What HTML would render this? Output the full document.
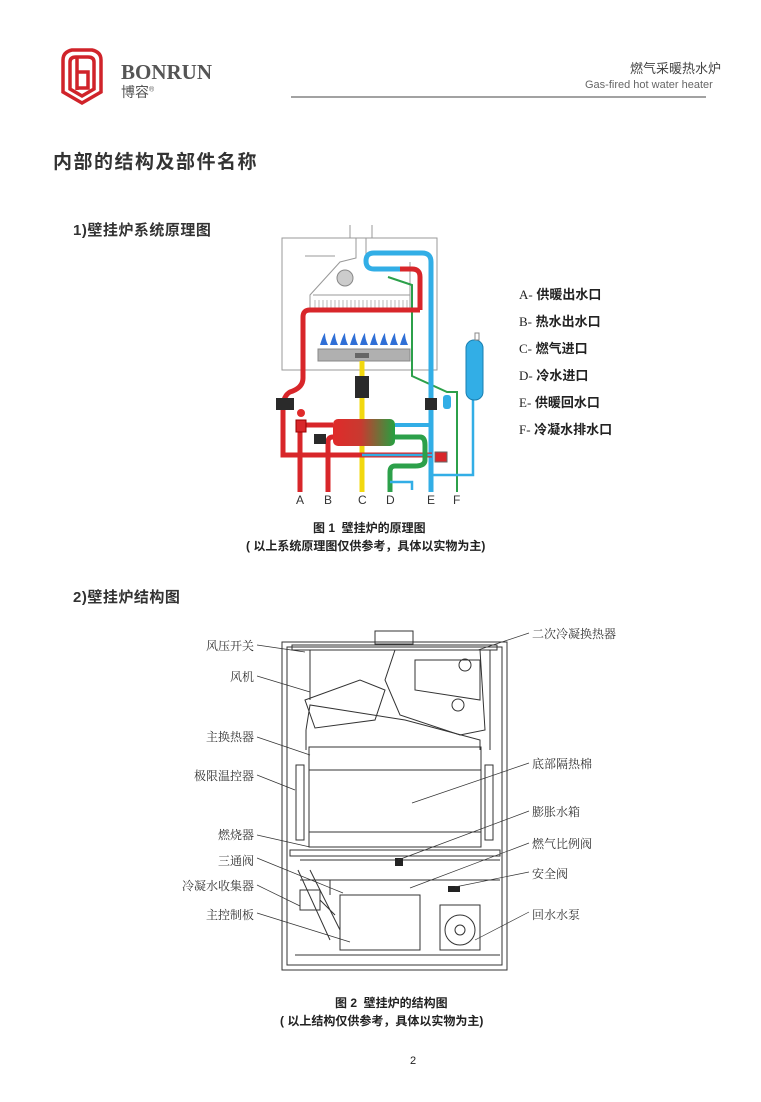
<!DOCTYPE html>
<html><head><meta charset="utf-8"><style>
body{margin:0;background:#fff;width:761px;height:1102px;position:relative;overflow:hidden;font-family:"Liberation Sans","Noto Sans CJK SC",sans-serif;color:#222}
.t{position:absolute;white-space:nowrap}
.lb div{white-space:nowrap}
</style></head><body>
<svg width="761" height="1102" style="position:absolute;left:0;top:0" xmlns="http://www.w3.org/2000/svg">
<defs><linearGradient id="hx" x1="0" x2="1"><stop offset="0" stop-color="#e02a2a"/><stop offset="0.45" stop-color="#c83a30"/><stop offset="1" stop-color="#25a040"/></linearGradient></defs>
<!-- logo -->
<g fill="none" stroke="#d0232a" stroke-width="3.5">
<path d="M63 60 Q63 52 72 50 L92 50 Q101 52 101 60 L101 92 L82 103 L63 92 Z"/>
<path d="M70 62 L70 89 L82 96 L94 89 L94 62 Q94 57 88 57 L76 57 Q70 57 70 62 Z"/>
<path d="M77 58 L77 90 M77 72 L88 72 L88 88 L77 88"/>
</g>
<line x1="291" y1="97" x2="706" y2="97" stroke="#444" stroke-width="1"/>
<!-- schematic -->
<g fill="none" stroke="#999" stroke-width="1">
<rect x="282" y="238" width="155" height="132"/>
<path d="M350 238 L350 225 M372 238 L372 225 M356 238 L356 258 L340 262 L310 295 L310 310 M366 238 L366 258"/>
<path d="M410 262 L410 310 M313 295 L410 295"/>
<path d="M305 256 L335 256"/>
</g>
<g stroke="#aaa" stroke-width="0.8">
<path d="M315 300v10M319 300v10M323 300v10M327 300v10M331 300v10M335 300v10M339 300v10M343 300v10M347 300v10M351 300v10M355 300v10M359 300v10M363 300v10M367 300v10M371 300v10M375 300v10M379 300v10M383 300v10M387 300v10M391 300v10M395 300v10M399 300v10M403 300v10M407 300v10"/>
</g>
<circle cx="345" cy="278" r="8" fill="#ccc" stroke="#888"/>
<rect x="318" y="349" width="92" height="12" fill="#b0b0b0" stroke="#888"/>
<rect x="355" y="353" width="14" height="5" fill="#666"/>
<g fill="#2f6fd6"><path d="M320 345 q3 -10 5 -12 q0 6 3 12z M330 345 q3 -10 5 -12 q0 6 3 12z M340 345 q3 -10 5 -12 q0 6 3 12z M350 345 q3 -10 5 -12 q0 6 3 12z M360 345 q3 -10 5 -12 q0 6 3 12z M370 345 q3 -10 5 -12 q0 6 3 12z M380 345 q3 -10 5 -12 q0 6 3 12z M390 345 q3 -10 5 -12 q0 6 3 12z M400 345 q3 -10 5 -12 q0 6 3 12z"/></g>
<path d="M362 361 L362 492" stroke="#f2d80f" stroke-width="5"/>
<rect x="355" y="376" width="14" height="22" fill="#2a2a2a"/>
<path d="M388 277 L412 285 L412 376 L447 392 L457 392 L457 492" fill="none" stroke="#2ca04a" stroke-width="2"/>
<path d="M431 492 L431 262 Q431 253 422 253 L374 253 Q366 253 366 261 Q366 269 374 269 L400 269" fill="none" stroke="#32aee6" stroke-width="5"/>
<path d="M400 269 L412 269 Q420 269 420 277 L420 310" fill="none" stroke="#d8262a" stroke-width="5"/>
<path d="M420 310 L310 310 Q303 310 303 317 L303 378 Q303 388 290 392 Q283 396 283 408 L283 455 L432 455" fill="none" stroke="#d8262a" stroke-width="5"/>
<path d="M300 492 L300 425 L333 425" fill="none" stroke="#d8262a" stroke-width="5"/>
<path d="M328 492 L328 442 Q328 437 333 437" fill="none" stroke="#d8262a" stroke-width="5"/>
<path d="M362 455 L432 455" stroke="#32aee6" stroke-width="2.5"/>
<path d="M395 425 L431 425" stroke="#32aee6" stroke-width="4"/>
<path d="M395 437 L420 437 Q425 437 425 445 L425 460 Q425 466 415 466 L395 466 Q390 466 390 472 L390 492" fill="none" stroke="#2ca04a" stroke-width="5"/>
<path d="M390 482 L412 482 L412 490 M431 475 L473 475 L473 400" fill="none" stroke="#32aee6" stroke-width="2.5"/>
<rect x="333" y="419" width="62" height="27" rx="5" fill="url(#hx)"/>
<rect x="466" y="340" width="17" height="60" rx="8" fill="#32aee6" stroke="#1a7fb0"/>
<rect x="475" y="333" width="4" height="7" fill="#fff" stroke="#888"/>
<rect x="443" y="395" width="8" height="14" rx="3" fill="#32aee6"/>
<rect x="425" y="398" width="12" height="12" fill="#2a2a2a"/>
<rect x="276" y="398" width="18" height="12" fill="#2a2a2a"/>
<rect x="296" y="420" width="10" height="12" fill="#d8262a" stroke="#900"/>
<circle cx="301" cy="413" r="4" fill="#e02a2a"/>
<rect x="314" y="434" width="12" height="10" fill="#2a2a2a"/>
<rect x="435" y="452" width="12" height="10" fill="#d8262a" stroke="#666"/>
<!-- structure diagram -->
<g fill="none" stroke="#333" stroke-width="1">
<rect x="282" y="642" width="225" height="328"/>
<rect x="287" y="647" width="215" height="318"/>
<rect x="292" y="645" width="205" height="5"/>
<rect x="375" y="631" width="38" height="13"/>
<path d="M290 850 L500 850 L500 856 L290 856 Z"/>
<rect x="309" y="747" width="172" height="100"/>
<path d="M309 770 L481 770 M309 832 L481 832"/>
<path d="M306 730 L310 705 L405 720 L480 740 L480 750 M306 730 L306 750"/>
<path d="M395 650 L480 650 L485 730 L460 735 L400 715 L385 680 Z"/>
<path d="M415 660 L480 660 L480 700 L415 690 Z"/>
<path d="M305 700 L360 680 L385 690 L375 720 L315 728 Z"/>
<path d="M340 895 L420 895 L420 950 L340 950 Z"/>
<circle cx="460" cy="930" r="15"/>
<circle cx="460" cy="930" r="5"/>
<path d="M440 905 L480 905 L480 950 L440 950 Z"/>
<path d="M295 955 L500 955"/>
<path d="M298 870 L330 940 M310 870 L340 930"/>
<rect x="296" y="765" width="8" height="75"/>
<rect x="485" y="765" width="8" height="75"/>
<path d="M300 860 L500 860 M300 880 L500 880 M310 650 L310 700 M490 650 L490 750"/>
<circle cx="465" cy="665" r="6"/><circle cx="458" cy="705" r="6"/>
<path d="M330 880 L330 895 M320 900 L335 915 M300 890 L320 890 L320 910 L300 910 Z"/>
</g>
<g fill="#222"><rect x="395" y="858" width="8" height="8"/><rect x="448" y="886" width="12" height="6"/></g>
<g stroke="#333" stroke-width="0.7">
<path d="M257 645 L305 652"/><path d="M257 676 L310 692"/><path d="M257 737 L310 755"/><path d="M257 775 L295 790"/><path d="M257 835 L310 847"/><path d="M257 858 L343 893"/><path d="M257 885 L300 906"/><path d="M257 913 L350 942"/>
<path d="M529 633 L478 650"/><path d="M529 763 L412 803"/><path d="M529 811 L398 860"/><path d="M529 843 L410 888"/><path d="M529 872 L455 887"/><path d="M529 912 L475 940"/>
</g>
</svg>
<div class="t" style="left:121px;top:60px;font-family:'Liberation Serif',serif;font-weight:bold;font-size:21px;color:#555">BONRUN</div>
<div class="t" style="left:121px;top:82px;font-size:14px;color:#555">博容<sup style="font-size:7px">®</sup></div>
<div class="t" style="left:630px;top:58px;font-size:13px;color:#444">燃气采暖热水炉</div>
<div class="t" style="left:585px;top:79px;font-size:11px;color:#666">Gas-fired hot water heater</div>
<div class="t" style="left:53px;top:147px;font-size:19px;letter-spacing:1.5px;color:#333;font-weight:bold">内部的结构及部件名称</div>
<div class="t" style="left:73px;top:219px;font-size:15px;color:#333;letter-spacing:0.5px;font-weight:bold">1)壁挂炉系统原理图</div>
<div class="t" style="left:73px;top:586px;font-size:15px;color:#333;letter-spacing:0.5px;font-weight:bold">2)壁挂炉结构图</div>
<div class="lb" style="position:absolute;left:519px;top:281px;font-size:13px;line-height:27px;color:#222;font-weight:bold">
<div><span style="font-family:'Liberation Serif',serif;font-weight:normal">A-</span> 供暖出水口</div><div><span style="font-family:'Liberation Serif',serif;font-weight:normal">B-</span> 热水出水口</div><div><span style="font-family:'Liberation Serif',serif;font-weight:normal">C-</span> 燃气进口</div><div><span style="font-family:'Liberation Serif',serif;font-weight:normal">D-</span> 冷水进口</div><div><span style="font-family:'Liberation Serif',serif;font-weight:normal">E-</span> 供暖回水口</div><div><span style="font-family:'Liberation Serif',serif;font-weight:normal">F-</span> 冷凝水排水口</div></div>
<div class="t" style="left:296px;top:493px;font-size:12px;color:#333">A</div>
<div class="t" style="left:324px;top:493px;font-size:12px;color:#333">B</div>
<div class="t" style="left:358px;top:493px;font-size:12px;color:#333">C</div>
<div class="t" style="left:386px;top:493px;font-size:12px;color:#333">D</div>
<div class="t" style="left:427px;top:493px;font-size:12px;color:#333">E</div>
<div class="t" style="left:453px;top:493px;font-size:12px;color:#333">F</div>
<div class="t" style="left:313px;top:519px;font-size:12px;font-weight:bold">图 1&nbsp; 壁挂炉的原理图</div>
<div class="t" style="left:246px;top:537px;font-size:12px;font-weight:bold">( 以上系统原理图仅供参考，具体以实物为主)</div>
<div class="lb" style="position:absolute;left:150px;top:637px;width:104px;font-size:12px;color:#333;font-family:'Liberation Serif','Noto Serif CJK SC',serif">
<div style="position:absolute;right:0;top:0">风压开关</div>
<div style="position:absolute;right:0;top:31px">风机</div>
<div style="position:absolute;right:0;top:91px">主换热器</div>
<div style="position:absolute;right:0;top:130px">极限温控器</div>
<div style="position:absolute;right:0;top:189px">燃烧器</div>
<div style="position:absolute;right:0;top:215px">三通阀</div>
<div style="position:absolute;right:0;top:240px">冷凝水收集器</div>
<div style="position:absolute;right:0;top:269px">主控制板</div>
</div>
<div class="lb" style="position:absolute;left:532px;top:625px;width:120px;font-size:12px;color:#333;font-family:'Liberation Serif','Noto Serif CJK SC',serif">
<div style="position:absolute;left:0;top:0">二次冷凝换热器</div>
<div style="position:absolute;left:0;top:130px">底部隔热棉</div>
<div style="position:absolute;left:0;top:178px">膨胀水箱</div>
<div style="position:absolute;left:0;top:210px">燃气比例阀</div>
<div style="position:absolute;left:0;top:240px">安全阀</div>
<div style="position:absolute;left:0;top:281px">回水水泵</div>
</div>
<div class="t" style="left:335px;top:994px;font-size:12px;font-weight:bold">图 2&nbsp; 壁挂炉的结构图</div>
<div class="t" style="left:280px;top:1012px;font-size:12px;font-weight:bold">( 以上结构仅供参考，具体以实物为主)</div>
<div class="t" style="left:410px;top:1055px;font-size:11px">2</div>
</body></html>
